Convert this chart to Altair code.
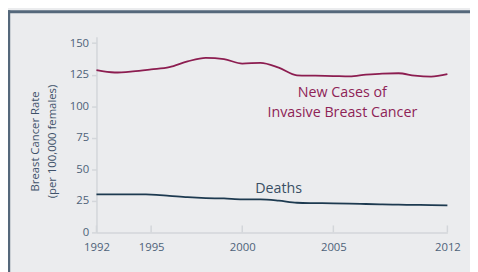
import altair as alt
import pandas as pd

years = list(range(1992, 2013))
new_cases = [128.5, 126.7, 127.6, 129.2, 131.0, 135.5, 138.3, 137.3, 133.8, 134.3,
             130.5, 124.5, 124.2, 123.9, 123.6, 125.0, 125.9, 126.1, 124.2, 123.5, 125.4]
deaths = [30.1, 30.1, 30.1, 30.0, 29.0, 27.9, 27.2, 26.9, 26.2, 26.2,
          25.2, 23.5, 23.2, 23.0, 22.8, 22.5, 22.2, 22.0, 21.8, 21.6, 21.5]
tick_years = [1992, 1995, 2000, 2005, 2012]
y_ticks = [0, 25, 50, 75, 100, 125, 150]

ann_text = ["New Cases of", "Invasive Breast Cancer", "Deaths"]
ann_x = [2005.55, 2005.55, 2002.0]
ann_y = [110.8, 94.5, 34.5]
ann_series = ["cases", "cases", "deaths"]

FONT = "Open Sans"
MAROON = "#8c1d50"
NAVY = "#1d3a50"
GRID = "#d3d6da"

df = pd.DataFrame({"year": years, "cases": new_cases, "deaths": deaths})
ticks_df = pd.DataFrame({"year": tick_years, "y0": [0] * len(tick_years), "y1": [5.5] * len(tick_years)})
ann_df = pd.DataFrame({"text": ann_text, "x": ann_x, "y": ann_y, "s": ann_series})

xs = alt.Scale(domain=[1992, 2005, 2012], range=[0, 241, 357], nice=False, zero=False)
ys = alt.Scale(domain=[0, 155], nice=False, zero=True)

x_axis = alt.Axis(values=tick_years, format="d", ticks=False, title=None, labelFlush=False,
                  labelPadding=9, domainColor=GRID, domainWidth=1.5)
y_axis = alt.Axis(values=y_ticks, title=["Breast Cancer Rate", "(per 100,000 females)"],
                  titleX=-68, titleY=106, titleAngle=-90, titleAlign="center",
                  titleBaseline="top", titleLineHeight=17, labelOverlap=False,
                  tickSize=5, tickColor=GRID, tickWidth=1.5, labelPadding=3,
                  domainColor=GRID, domainWidth=1.5)

X = alt.X("year:Q", scale=xs, axis=x_axis)

xticks = alt.Chart(ticks_df).mark_rule(color=GRID, strokeWidth=1.5).encode(
    x=X, y=alt.Y("y0:Q", scale=ys, axis=y_axis), y2="y1:Q"
)
cases_line = alt.Chart(df).mark_line(color=MAROON, strokeWidth=1.8, interpolate="monotone").encode(
    x=alt.X("year:Q", axis=x_axis),
    y=alt.Y("cases:Q", axis=y_axis),
)
deaths_line = alt.Chart(df).mark_line(color=NAVY, strokeWidth=1.8, interpolate="monotone").encode(
    x=alt.X("year:Q", axis=x_axis),
    y=alt.Y("deaths:Q", axis=y_axis),
)
ann = alt.Chart(ann_df).mark_text(font=FONT, fontSize=14.5, baseline="middle", align="center").encode(
    x=alt.X("x:Q", axis=x_axis), y=alt.Y("y:Q", axis=y_axis), text="text:N",
    color=alt.Color("s:N", scale=alt.Scale(domain=["cases", "deaths"], range=["#8e2356", "#3a4f64"]), legend=None),
)
one = alt.Data(values=[{"a": 1}])
top_border = alt.Chart(one).mark_rule(color="#55687b", strokeWidth=3).encode(
    x=alt.value(-90), x2=alt.value(380), y=alt.value(-25.5)
)
left_border = alt.Chart(one).mark_rule(color="#55687b", strokeWidth=2.5).encode(
    x=alt.value(-89), y=alt.value(-27), y2=alt.value(240)
)

chart = alt.layer(xticks, cases_line, deaths_line, ann, top_border, left_border).properties(
    width=357, height=199,
    background="#ebecee",
    padding={"left": 90, "top": 27, "right": 23, "bottom": 38},
    autosize=alt.AutoSizeParams(type="none"),
).configure_view(stroke=None).configure_axis(
    grid=False, labelFont=FONT, labelFontSize=11.5, labelColor="#4e6279",
    titleFont=FONT, titleFontSize=11.5, titleColor="#3e5169", titleFontWeight="normal",
)

chart.save("out.html", embed_options={"renderer": "svg", "actions": False})
